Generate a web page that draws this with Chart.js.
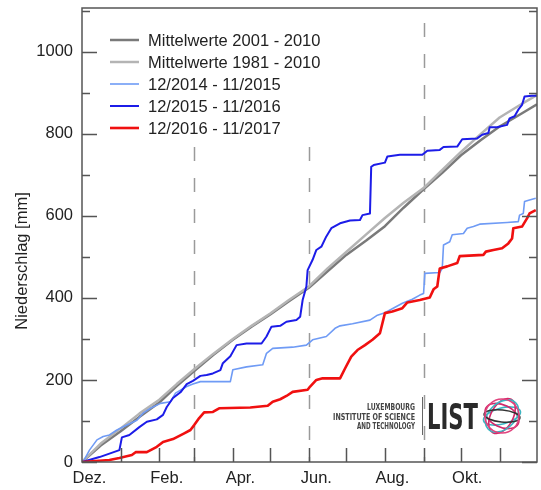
<!DOCTYPE html>
<html>
<head>
<meta charset="utf-8">
<script src="https://cdn.jsdelivr.net/npm/chart.js@4/dist/chart.umd.min.js"></script>
<style>
  body { margin: 0; background: #fff; }
  #wrap { width: 541px; height: 490px; }
</style>
</head>
<body>
<div id="wrap"><canvas id="c" width="541" height="490"></canvas></div>
<script>
// ── Data (day 0 = 1. Dez., values = cumulative mm) ─────────────────────────
const monthStarts = [31, 62, 90, 121, 151, 182, 212, 243, 274, 304, 335];
const labelDays = [6, 68, 127, 188, 249, 309];
const monthLabels = ['Dez.', 'Feb.', 'Apr.', 'Jun.', 'Aug.', 'Okt.'];
const seasonDays = [90, 182, 274];
const yTicks = [0, 100, 200, 300, 400, 500, 600, 700, 800, 900, 1000, 1100];

const mean2001 = [[0,0],[15,40],[31,75],[46,110],[62,145],[76,185],[90,222],[105,260],[121,298],[136,330],
  [151,360],[166,392],[182,425],[197,465],[212,505],[228,540],[243,575],[258,620],[274,665],[289,705],
  [304,748],[320,785],[335,818],[350,845],[365,872]];
const mean1981 = [[0,0],[15,45],[31,82],[46,118],[62,152],[76,190],[90,226],[105,263],[121,300],[136,332],
  [151,362],[166,395],[182,428],[197,472],[212,512],[228,555],[243,595],[258,632],[274,668],[289,712],
  [304,756],[320,800],[335,840],[350,868],[365,895]];
const y2015 = [[0,0],[1,1],[6,29],[12,54],[17,62],[22,66],[28,78],[36,90],[44,102],[49,119],[55,131],
  [63,143],[71,147],[75,168],[84,184],[89,190],[95,196],[119,196],[121,225],[132,232],[145,237],[148,265],
  [153,277],[169,280],[180,285],[185,298],[196,306],[203,326],[207,332],[217,337],[231,346],[237,358],
  [243,364],[257,387],[265,397],[271,407],[274,411],[275,460],[287,462],[289,472],[290,529],[295,537],
  [297,554],[306,557],[309,570],[314,574],[319,580],[341,584],[350,586],[351,602],[354,606],[355,635],
  [359,639],[364,643]];
const y2016 = [[0,0],[14,12],[30,29],[32,60],[38,66],[46,85],[52,98],[60,104],[65,115],[68,134],[73,156],
  [79,170],[84,190],[89,198],[95,210],[100,212],[105,216],[111,224],[113,241],[119,258],[124,285],[132,289],
  [144,289],[148,306],[152,330],[159,332],[164,342],[172,346],[175,354],[177,395],[180,428],[181,468],
  [185,493],[188,517],[192,525],[196,550],[200,570],[207,582],[215,589],[223,590],[225,602],[231,606],
  [232,720],[234,724],[243,730],[245,745],[255,749],[273,749],[277,759],[287,761],[290,768],[301,769],
  [305,787],[317,789],[321,798],[326,802],[327,816],[333,816],[341,822],[343,838],[347,843],[350,859],
  [353,871],[355,891],[361,893],[365,893]];
const y2017 = [[0,0],[22,5],[30,10],[40,17],[43,24],[52,24],[60,37],[65,49],[73,56],[82,70],[87,78],
  [90,90],[94,107],[98,121],[105,122],[110,131],[135,133],[149,137],[153,147],[159,153],[164,161],
  [169,171],[181,176],[183,184],[188,200],[193,204],[207,204],[211,228],[216,257],[221,273],[227,285],
  [233,298],[239,314],[243,363],[249,367],[257,375],[261,389],[271,395],[279,401],[282,421],[285,428],
  [287,472],[293,477],[301,485],[303,502],[322,505],[324,513],[330,517],[337,521],[342,533],[345,545],
  [346,570],[353,574],[357,594],[359,606],[364,614]];

const FONT = "'Liberation Sans', Arial, sans-serif";
const AXIS = '#555';

const series = [
  { label: 'Mittelwerte 2001 - 2010', data: mean2001, color: '#7a7a7a', width: 2.5 },
  { label: 'Mittelwerte 1981 - 2010', data: mean1981, color: '#b4b4b4', width: 2.5 },
  { label: '12/2014 - 11/2015', data: y2015, color: '#6f9bf5', width: 1.6 },
  { label: '12/2015 - 11/2016', data: y2016, color: '#1c1ce8', width: 2 },
  { label: '12/2016 - 11/2017', data: y2017, color: '#f01010', width: 2.6 },
];

// ── Frame, inner ticks, legend, logo ───────────────────────────────────────
const framePlugin = {
  id: 'frame',
  beforeDatasetsDraw(chart) {
    const { ctx, chartArea: a, scales: { x } } = chart;
    ctx.save();
    ctx.strokeStyle = '#9a9a9a';
    ctx.lineWidth = 1.5;
    ctx.setLineDash([14, 17]);
    ctx.lineDashOffset = 16;
    seasonDays.forEach(d => {
      const px = Math.round(x.getPixelForValue(d)) + 0.5;
      ctx.beginPath();
      ctx.moveTo(px, a.top);
      ctx.lineTo(px, a.bottom);
      ctx.stroke();
    });
    ctx.restore();
  },
  afterDatasetsDraw(chart) {
    const { ctx, chartArea: a, scales: { x, y } } = chart;
    ctx.save();

    // legend box
    ctx.fillStyle = '#fff';
    ctx.fillRect(100, 20, 240, 121);
    ctx.font = '16.5px ' + FONT;
    ctx.textBaseline = 'middle';
    ctx.textAlign = 'left';
    series.forEach((s, i) => {
      const ly = 40 + i * 22;
      ctx.strokeStyle = s.color;
      ctx.lineWidth = s.width;
      ctx.beginPath();
      ctx.moveTo(110, ly);
      ctx.lineTo(139, ly);
      ctx.stroke();
      ctx.fillStyle = '#222';
      ctx.fillText(s.label, 148, ly + 1);
    });

    // box + inner ticks
    ctx.strokeStyle = AXIS;
    ctx.lineWidth = 1.5;
    ctx.strokeRect(a.left, a.top, a.right - a.left, a.bottom - a.top);
    ctx.beginPath();
    yTicks.forEach(v => {
      const py = Math.round(y.getPixelForValue(v)) + 0.5;
      const len = v % 200 === 0 ? 15 : 8;
      ctx.moveTo(a.left, py); ctx.lineTo(a.left + len, py);
      ctx.moveTo(a.right, py); ctx.lineTo(a.right - len, py);
    });
    monthStarts.forEach(d => {
      const px = Math.round(x.getPixelForValue(d)) + 0.5;
      ctx.moveTo(px, a.bottom); ctx.lineTo(px, a.bottom - 14);
    });
    ctx.stroke();

    // y title
    ctx.save();
    ctx.translate(22, 261);
    ctx.rotate(-Math.PI / 2);
    ctx.textAlign = 'center';
    ctx.fillStyle = '#222';
    ctx.font = '16.5px ' + FONT;
    ctx.fillText('Niederschlag [mm]', 0, 0);
    ctx.restore();

    // LIST logo
    ctx.fillStyle = '#444';
    ctx.textAlign = 'right';
    ctx.textBaseline = 'alphabetic';
    ctx.font = "bold 8.5px 'DejaVu Sans Condensed', sans-serif";
    ctx.fillText('LUXEMBOURG', 415, 410, 48);
    ctx.fillText('INSTITUTE OF SCIENCE', 415, 419.5, 82);
    ctx.fillText('AND TECHNOLOGY', 415, 429, 58);
    ctx.strokeStyle = '#666';
    ctx.lineWidth = 1;
    ctx.beginPath();
    ctx.moveTo(422.5, 397); ctx.lineTo(422.5, 435);
    ctx.stroke();
    ctx.fillStyle = '#2a2a2a';
    ctx.textAlign = 'left';
    ctx.font = "bold 35px 'DejaVu Sans Condensed', sans-serif";
    ctx.fillText('LIST', 427, 429, 51);

    const cx = 502, cy = 416;
    const rings = [
      [19, 8, -0.25, '#3db5c2'], [18, 11, 0.45, '#d2296a'], [11, 19, 0.5, '#d2296a'],
      [19, 13, -0.75, '#3db5c2'], [18, 6, 0.1, '#333'], [17, 17, 0, '#e0447e'],
    ];
    ctx.lineWidth = 1.6;
    rings.forEach(([rx, ry, rot, col]) => {
      ctx.strokeStyle = col;
      ctx.beginPath();
      ctx.ellipse(cx, cy, rx, ry, rot, 0, Math.PI * 2);
      ctx.stroke();
    });

    ctx.restore();
  }
};

// ── Chart ──────────────────────────────────────────────────────────────────
new Chart(document.getElementById('c'), {
  type: 'line',
  data: {
    datasets: series.map(s => ({
      label: s.label,
      data: s.data.map(([d, v]) => ({ x: d, y: v })),
      borderColor: s.color,
      borderWidth: s.width,
      pointRadius: 0,
      tension: 0,
      borderJoinStyle: 'round',
      fill: false,
    })).reverse()
  },
  options: {
    responsive: false,
    animation: false,
    layout: { padding: { top: 8, right: 4, left: 0, bottom: 0 } },
    plugins: { legend: { display: false }, tooltip: { enabled: false } },
    scales: {
      x: {
        type: 'linear', min: 0, max: 365,
        afterBuildTicks: s => { s.ticks = labelDays.map(v => ({ value: v })); },
        afterFit: s => { s.height = 28; s.paddingLeft = 0; s.paddingRight = 0; },
        ticks: {
          callback: (v, i) => monthLabels[i],
          autoSkip: false, maxRotation: 0, padding: 7,
          color: '#222', font: { size: 16.5, family: FONT }
        },
        grid: { display: false, drawTicks: false },
        border: { display: false }
      },
      y: {
        min: 0, max: 1107,
        afterBuildTicks: s => { s.ticks = yTicks.map(v => ({ value: v })); },
        afterFit: s => { s.width = 82; s.paddingTop = 0; s.paddingBottom = 0; },
        ticks: {
          callback: v => (v % 200 === 0 && v <= 1000 ? String(v) : ''),
          padding: 9,
          color: '#222', font: { size: 16.5, family: FONT }
        },
        grid: { display: false, drawTicks: false },
        border: { display: false }
      }
    }
  },
  plugins: [framePlugin]
});
</script>
</body>
</html>
